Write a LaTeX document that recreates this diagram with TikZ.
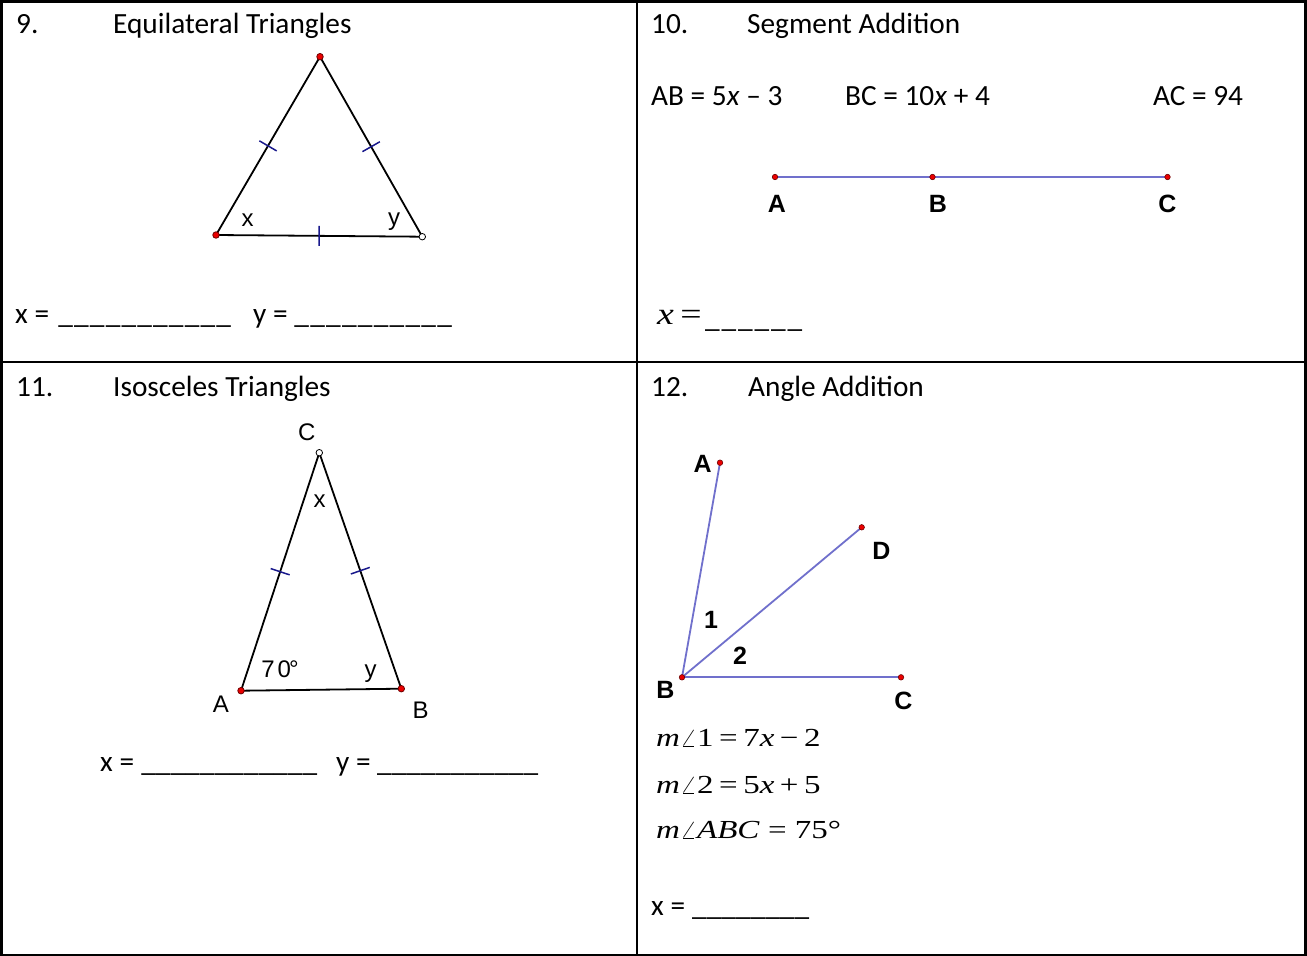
\documentclass[tikz,border=0pt]{standalone}
\usepackage{fontspec}
\setmainfont{Carlito}
\newfontfamily\gspfont{Liberation Sans}
\newfontfamily\eqfont{Liberation Serif}
\usetikzlibrary{calc}
\definecolor{gspline}{RGB}{112,112,204}
\definecolor{tickblue}{RGB}{25,25,140}
\definecolor{ptred}{RGB}{235,0,0}
\definecolor{ptdark}{RGB}{110,0,0}
\newcommand{\blankline}[1]{\hbox to #1{\xleaders\hbox{\_}\hfill}}
\newcommand{\tickmark}[2]{\draw[tickstyle] ($(#1)!0.5!(#2)!10pt!90:(#2)$) -- ($(#1)!0.5!(#2)!10pt!-90:(#2)$);}
\newcommand{\eqstretch}[1]{\scalebox{1.27}[1]{#1}}
\begin{document}
\begin{tikzpicture}[x=1pt,y=-1pt,
  body/.style={font=\fontsize{29.3}{35}\selectfont, inner sep=0, anchor=base west},
  gsp/.style={font=\gspfont\fontsize{24}{28}\selectfont, inner sep=0},
  gspb/.style={font=\gspfont\bfseries\fontsize{25}{30}\selectfont, inner sep=0},
  eq/.style={font=\eqfont\fontsize{26}{30}\selectfont, inner sep=0, anchor=base west},
  side/.style={line width=1.8, black},
  seg/.style={line width=1.8, gspline},
  tickstyle/.style={line width=1.5, tickblue},
  reddot/.style={circle, fill=ptred, draw=ptdark, line width=0.8, minimum size=6.5, inner sep=0},
  opendot/.style={circle, fill=white, draw=black, line width=0.8, minimum size=6.5, inner sep=0},
  smalldot/.style={circle, fill=ptred, draw=ptdark, line width=0.6, minimum size=5.5, inner sep=0},
  frame/.style={line width=2.5, black}]
\useasboundingbox (0,0) rectangle (1307,956);
\fill[white] (0,0) rectangle (1307,956);
% table
\draw[frame] (1.25,1.25) rectangle (1305.5,954.75);
\draw[frame] (637,0) -- (637,956);
\draw[frame] (0,362) -- (1307,362);

% ---------- panel 9 ----------
\node[body] (h9n) at (16,33) {9.};
\node[body] (h9t) at (113,33) {Equilateral Triangles};
\coordinate (t9a) at (320,56.7);
\coordinate (t9b) at (216,235);
\coordinate (t9c) at (422.3,236.7);
\draw[side] (t9a) -- (t9b) -- (t9c) -- cycle;
\tickmark{t9b}{t9a}
\tickmark{t9a}{t9c}
\tickmark{t9b}{t9c}
\node[reddot] (d9a) at (t9a) {};
\node[reddot] (d9b) at (t9b) {};
\node[opendot] (d9c) at (t9c) {};
\node[gsp] (l9x) at (247.5,219.7) {x};
\node[gsp] (l9y) at (394,221.5) {y};
\node[body] (a9x) at (15,323.5) {x =};
\node[body] (b9x) at (57,323.5) {\blankline{175pt}};
\node[body] (a9y) at (253,323.5) {y =};
\node[body] (b9y) at (293,323.5) {\blankline{160pt}};

% ---------- panel 10 ----------
\node[body] (h10n) at (651,33) {10.};
\node[body] (h10t) at (747,33) {Segment Addition};
\node[body] (ab10) at (651,105) {AB = 5\textit{x} – 3};
\node[body] (bc10) at (845,105) {BC = 10\textit{x} + 4};
\node[body] (ac10) at (1153,105) {AC = 94};
\coordinate (s10a) at (775,177);
\coordinate (s10b) at (932.5,177);
\coordinate (s10c) at (1167.5,177);
\draw[seg] (s10a) -- (s10b) -- (s10c);
\node[smalldot] (d10a) at (s10a) {};
\node[smalldot] (d10b) at (s10b) {};
\node[smalldot] (d10c) at (s10c) {};
\node[gspb] (l10a) at (777,204) {A};
\node[gspb] (l10b) at (938,204) {B};
\node[gspb] (l10c) at (1167.5,204) {C};
\node[eq, font=\eqfont\fontsize{31}{36}\selectfont] (x10) at (657,324) {\scalebox{1.22}[1]{\textit{x}\,=}};
\node[body] (b10) at (703,327) {\blankline{101pt}};

% ---------- panel 11 ----------
\node[body] (h11n) at (16,396) {11.};
\node[body] (h11t) at (113,396) {Isosceles Triangles};
\coordinate (t11c) at (319.3,452.7);
\coordinate (t11a) at (241,690.7);
\coordinate (t11b) at (401.3,688.7);
\draw[side] (t11c) -- (t11a) -- (t11b) -- cycle;
\tickmark{t11a}{t11c}
\tickmark{t11c}{t11b}
\node[opendot] (d11c) at (t11c) {};
\node[reddot] (d11a) at (t11a) {};
\node[reddot] (d11b) at (t11b) {};
\node[gsp] (l11c) at (306.7,432) {C};
\node[gsp] (l11a) at (221,704.7) {A};
\node[gsp] (l11b) at (420.5,710.7) {B};
\node[gsp] (l11x) at (319.7,501) {x};
\node[gsp] (l11s) at (280,669) {7\hspace{3pt}0\kern-2pt°};
\node[gsp] (l11y) at (370.5,674) {y};
\node[body] (a11x) at (100,771) {x =};
\node[body] (b11x) at (141,771) {\blankline{176pt}};
\node[body] (a11y) at (336,771) {y =};
\node[body] (b11y) at (377,771) {\blankline{161pt}};

% ---------- panel 12 ----------
\node[body] (h12n) at (651,396) {12.};
\node[body] (h12t) at (748,396) {Angle Addition};
\coordinate (p12a) at (720,462.7);
\coordinate (p12d) at (861.7,527.3);
\coordinate (p12b) at (682,677.3);
\coordinate (p12c) at (901,677.3);
\draw[seg] (p12b) -- (p12a);
\draw[seg] (p12b) -- (p12d);
\draw[seg] (p12b) -- (p12c);
\node[smalldot] (d12a) at (p12a) {};
\node[smalldot] (d12d) at (p12d) {};
\node[smalldot] (d12b) at (p12b) {};
\node[smalldot] (d12c) at (p12c) {};
\node[gspb] (l12a) at (702.7,463.8) {A};
\node[gspb] (l12d) at (881.5,550.8) {D};
\node[gspb] (l12b) at (665.5,689.5) {B};
\node[gspb] (l12c) at (903.5,700.8) {C};
\node[gspb] (l12one) at (711,619.5) {1};
\node[gspb] (l12two) at (740,655.8) {2};
\node[eq] (e12a) at (656,746) {\eqstretch{\textit{m}$\angle$1\,=\,7\textit{x}\,−\,2}};
\node[eq] (e12b) at (656,793) {\eqstretch{\textit{m}$\angle$2\,=\,5\textit{x}\,+\,5}};
\node[eq] (e12c) at (656,838) {\eqstretch{\textit{m}$\angle$\textit{ABC} = 75°}};
\node[body] (a12x) at (651,915) {x =};
\node[body] (b12x) at (692,915) {\blankline{117pt}};
\end{tikzpicture}
\end{document}
